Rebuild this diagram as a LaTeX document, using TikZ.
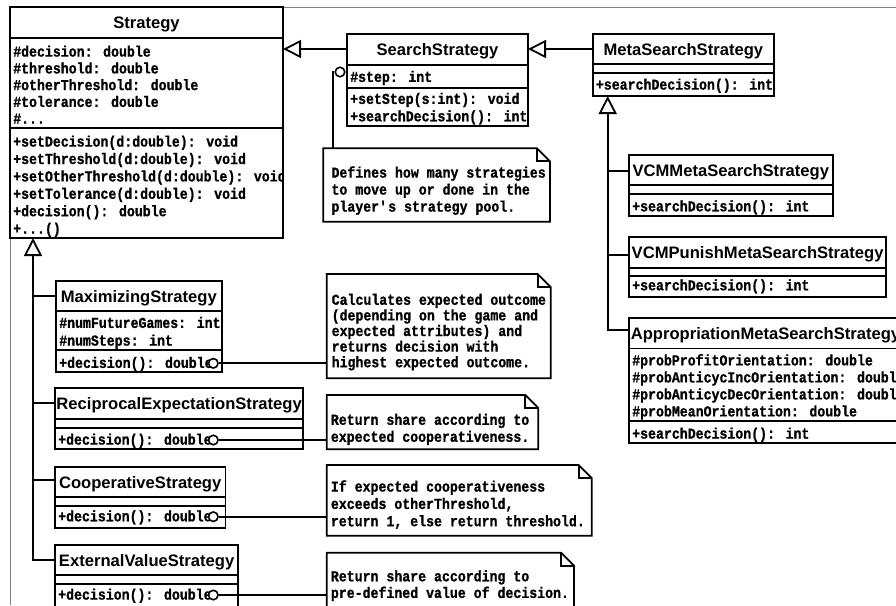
\documentclass[tikz,border=0pt]{standalone}
\usepackage{fontspec}
\newfontfamily\umlmono{Liberation Mono}[BoldFeatures={FakeStretch=0.87, FakeBold=1}]
\newfontfamily\umlsans{Liberation Sans}
\usetikzlibrary{arrows.meta}

% horizontal compartment rule inside a class box, #2 = distance below the top edge
\newcommand{\sepline}[2]{\draw[rule] ([yshift=-#2pt]#1.north west) -- ([yshift=-#2pt]#1.north east);}
% note outline with a folded top-right corner
\newcommand{\foldnote}[1]{%
  \draw[notepath] (#1.north west) -- ([xshift=-13pt]#1.north east) -- ([yshift=-13pt]#1.north east)
     -- (#1.south east) -- (#1.south west) -- cycle;
  \draw[notepath, fill=none] ([xshift=-13pt]#1.north east) |- ([yshift=-13pt]#1.north east);
}

\begin{document}
\begin{tikzpicture}[
  x=1pt, y=-1pt,
  cls/.style={draw, line width=1.8pt, fill=white, anchor=north west, inner sep=0pt, outer sep=0pt},
  notebox/.style={anchor=north west, inner sep=0pt, outer sep=0pt},
  notepath/.style={line width=1.8pt, fill=white},
  ttl/.style={font=\umlsans\bfseries\fontsize{16.6}{19}\selectfont, inner sep=0pt, anchor=base},
  mem/.style={font=\umlmono\bfseries\fontsize{15.2}{17}\selectfont, inner sep=0pt, anchor=base west},
  rule/.style={line width=1.8pt},
  link/.style={line width=1.8pt},
  inh/.style={line width=1.8pt, -{Triangle[open, length=18pt, width=18pt]}},
  anchordot/.style={circle, draw, fill=white, line width=1.6pt, minimum size=9.5pt, inner sep=0pt},
  frame/.style={draw=black!50, line width=1pt}
]
\clip (0,0) rectangle (896,605);
\draw[frame] (10,605) -- (10,7) -- (896,7);

% ---------- Strategy ----------
\node[cls, minimum width=273pt, minimum height=231pt] (strat) at (10,7) {};
\sepline{strat}{31}
\sepline{strat}{121}
\node[ttl] (strat-t) at (146.5,28.5) {Strategy};
\begin{scope}
  \clip (strat.south west) rectangle (strat.north east);
  \node[mem] (strat-a1) at (13,56.6)  {\#decision: double};
  \node[mem] (strat-a2) at (13,73.4)  {\#threshold: double};
  \node[mem] (strat-a3) at (13,90.1)  {\#otherThreshold: double};
  \node[mem] (strat-a4) at (13,106.9) {\#tolerance: double};
  \node[mem] (strat-a5) at (13,123.6) {\#...};
  \node[mem] (strat-m1) at (13,146.6) {+setDecision(d:double): void};
  \node[mem] (strat-m2) at (13,164.0) {+setThreshold(d:double): void};
  \node[mem] (strat-m3) at (13,181.4) {+setOtherThreshold(d:double): void};
  \node[mem] (strat-m4) at (13,198.8) {+setTolerance(d:double): void};
  \node[mem] (strat-m5) at (13,216.2) {+decision(): double};
  \node[mem] (strat-m6) at (13,233.6) {+...()};
\end{scope}

% ---------- SearchStrategy ----------
\node[cls, minimum width=181pt, minimum height=92pt] (search) at (347,34) {};
\sepline{search}{31}
\sepline{search}{54}
\node[ttl] (search-t) at (437.5,55.5) {SearchStrategy};
\node[mem] (search-a1) at (350,81.9) {\#step: int};
\node[mem] (search-m1) at (350,103.9) {+setStep(s:int): void};
\node[mem] (search-m2) at (350,121.3) {+searchDecision(): int};

% ---------- MetaSearchStrategy ----------
\node[cls, minimum width=181.3pt, minimum height=62pt] (meta) at (592.7,34) {};
\sepline{meta}{30}
\sepline{meta}{38.7}
\node[ttl] (meta-t) at (683.35,55.5) {MetaSearchStrategy};
\node[mem] (meta-m1) at (595.7,89.6) {+searchDecision(): int};

% ---------- VCMMetaSearchStrategy ----------
\node[cls, minimum width=203.7pt, minimum height=61pt] (vcm) at (629,155) {};
\sepline{vcm}{30}
\sepline{vcm}{39}
\node[ttl] (vcm-t) at (730.85,176.5) {VCMMetaSearchStrategy};
\node[mem] (vcm-m1) at (632,211.3) {+searchDecision(): int};

% ---------- VCMPunishMetaSearchStrategy ----------
\node[cls, minimum width=257.3pt, minimum height=60pt] (punish) at (629,236.7) {};
\sepline{punish}{31}
\sepline{punish}{39}
\node[ttl] (punish-t) at (757.65,258.2) {VCMPunishMetaSearchStrategy};
\node[mem] (punish-m1) at (632,290.3) {+searchDecision(): int};

% ---------- AppropriationMetaSearchStrategy ----------
\node[cls, minimum width=273pt, minimum height=125pt] (appr) at (629,318) {};
\sepline{appr}{30.5}
\sepline{appr}{103}
\node[ttl] (appr-t) at (765.5,339.5) {AppropriationMetaSearchStrategy};
\node[mem] (appr-a1) at (632,365.4) {\#probProfitOrientation: double};
\node[mem] (appr-a2) at (632,382.4) {\#probAnticycIncOrientation: double};
\node[mem] (appr-a3) at (632,399.4) {\#probAnticycDecOrientation: double};
\node[mem] (appr-a4) at (632,416.4) {\#probMeanOrientation: double};
\node[mem] (appr-m1) at (632,438.6) {+searchDecision(): int};

% ---------- MaximizingStrategy ----------
\node[cls, minimum width=165.7pt, minimum height=91.3pt] (maxs) at (56,281) {};
\sepline{maxs}{30}
\sepline{maxs}{69}
\node[ttl] (maxs-t) at (138.85,302.5) {MaximizingStrategy};
\node[mem] (maxs-a1) at (59,327.9) {\#numFutureGames: int};
\node[mem] (maxs-a2) at (59,345.6) {\#numSteps: int};
\node[mem] (maxs-m1) at (59,367.9) {+decision(): double};

% ---------- ReciprocalExpectationStrategy ----------
\node[cls, minimum width=248.3pt, minimum height=60.7pt] (recip) at (55,388.3) {};
\sepline{recip}{30.7}
\sepline{recip}{39.4}
\node[ttl] (recip-t) at (179.15,409.8) {ReciprocalExpectationStrategy};
\node[mem] (recip-m1) at (58,444.6) {+decision(): double};

% ---------- CooperativeStrategy ----------
\node[cls, minimum width=170.4pt, minimum height=60.4pt] (coop) at (55,467.3) {};
\sepline{coop}{29.4}
\sepline{coop}{38.4}
\node[ttl] (coop-t) at (140.2,488.8) {CooperativeStrategy};
\node[mem] (coop-m1) at (58,521.3) {+decision(): double};

% ---------- ExternalValueStrategy ----------
\node[cls, minimum width=183.3pt, minimum height=70pt] (ext) at (55,545) {};
\sepline{ext}{30}
\sepline{ext}{39}
\node[ttl] (ext-t) at (146.65,566.5) {ExternalValueStrategy};
\node[mem] (ext-m1) at (58,599.6) {+decision(): double};

% ---------- generalizations ----------
\coordinate (ss-join) at ([yshift=-15pt]search.north west);
\draw[inh] (ss-join) -- (ss-join -| strat.east);
\coordinate (ms-join) at ([yshift=-15pt]meta.north west);
\draw[inh] (ms-join) -- (ms-join -| search.east);

\coordinate (s-tip) at ([xshift=23pt]strat.south west);
\coordinate (e-join) at ([yshift=-15pt]ext.north west);
\coordinate (m-join) at ([yshift=-15pt]maxs.north west);
\coordinate (r-join) at ([yshift=-15pt]recip.north west);
\coordinate (c-join) at ([yshift=-12.7pt]coop.north west);
\draw[inh] (e-join) -| (s-tip);
\draw[link] (m-join) -- (m-join -| s-tip);
\draw[link] (r-join) -- (r-join -| s-tip);
\draw[link] (c-join) -- (c-join -| s-tip);

\coordinate (ms-tip) at ([xshift=15pt]meta.south west);
\coordinate (a-join) at ([yshift=-12pt]appr.north west);
\coordinate (v-join) at ([yshift=-15.7pt]vcm.north west);
\coordinate (p-join) at ([yshift=-18.3pt]punish.north west);
\draw[inh] (a-join) -| (ms-tip);
\draw[link] (v-join) -- (v-join -| ms-tip);
\draw[link] (p-join) -- (p-join -| ms-tip);

% ---------- notes ----------
\node[notebox, minimum width=226.7pt, minimum height=73.4pt] (snote) at (323.3,148.3) {};
\foldnote{snote}
\node[mem] (snote-1) at (331.3,177.6) {Defines how many strategies};
\node[mem] (snote-2) at (331.3,194.6) {to move up or done in the};
\node[mem] (snote-3) at (331.3,211.6) {player\textquotesingle s strategy pool.};

\node[notebox, minimum width=224pt, minimum height=104.3pt] (mnote) at (326.7,274) {};
\foldnote{mnote}
\node[mem] (mnote-1) at (331.5,304.8) {Calculates expected outcome};
\node[mem] (mnote-2) at (331.5,320.4) {(depending on the game and};
\node[mem] (mnote-3) at (331.5,336.0) {expected attributes) and};
\node[mem] (mnote-4) at (331.5,351.6) {returns decision with};
\node[mem] (mnote-5) at (331.5,367.2) {highest expected outcome.};

\node[notebox, minimum width=211.6pt, minimum height=54.3pt] (rnote) at (326.7,395) {};
\foldnote{rnote}
\node[mem] (rnote-1) at (330.7,424.8) {Return share according to};
\node[mem] (rnote-2) at (330.7,441.8) {expected cooperativeness.};

\node[notebox, minimum width=265pt, minimum height=70.7pt] (cnote) at (326.7,465) {};
\foldnote{cnote}
\node[mem] (cnote-1) at (330.7,491.6) {If expected cooperativeness};
\node[mem] (cnote-2) at (330.7,508.9) {exceeds otherThreshold,};
\node[mem] (cnote-3) at (330.7,526.2) {return 1, else return threshold.};

\node[notebox, minimum width=247.3pt, minimum height=70pt] (enote) at (326.7,552.7) {};
\foldnote{enote}
\node[mem] (enote-1) at (330.7,581.3) {Return share according to};
\node[mem] (enote-2) at (330.7,597.9) {pre-defined value of decision.};

% ---------- note anchors ----------
\node[anchordot] (search-c) at (340,72) {};
\draw[link] (search-c.west) -| ([xshift=9.7pt]snote.north west);

\node[anchordot] (maxs-c) at (213.3,363.3) {};
\draw[link] (maxs-c.east) -- (mnote.west |- maxs-c.east);
\node[anchordot] (recip-c) at (213.3,440) {};
\draw[link] (recip-c.east) -- (rnote.west |- recip-c.east);
\node[anchordot] (coop-c) at (213.3,516.7) {};
\draw[link] (coop-c.east) -- (cnote.west |- coop-c.east);
\node[anchordot] (ext-c) at (213.3,595) {};
\draw[link] (ext-c.east) -- (enote.west |- ext-c.east);
\end{tikzpicture}
\end{document}
